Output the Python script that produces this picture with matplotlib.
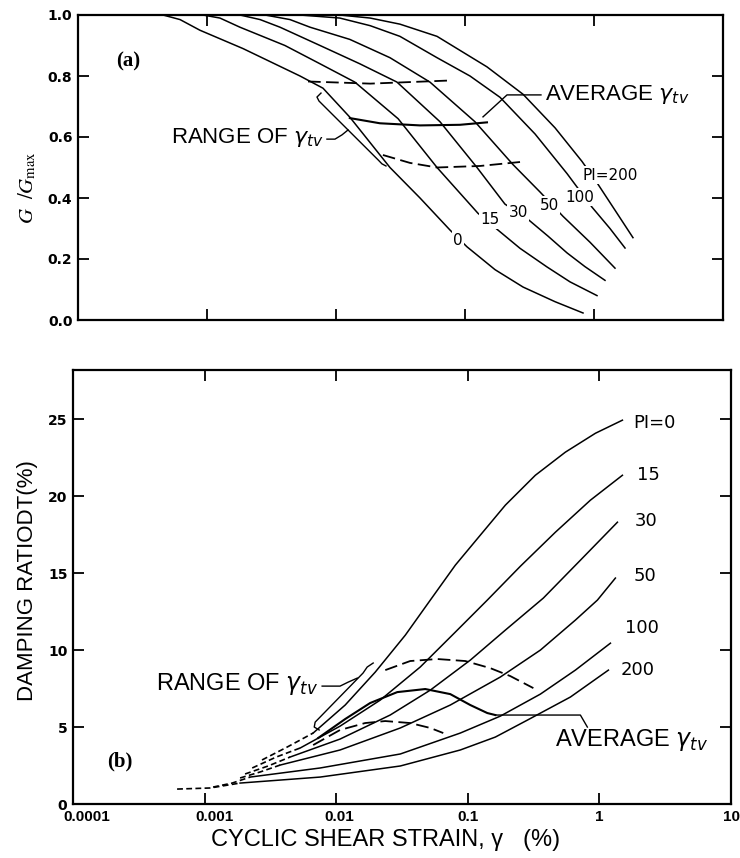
import matplotlib
matplotlib.use("Agg")
import matplotlib.pyplot as plt
from matplotlib.ticker import NullLocator
from matplotlib.transforms import ScaledTranslation

# ---------------- (a) G/Gmax curves, strain in % ----------------
g0_strain = [4.56e-4, 6.18e-4, 8.82e-4, 1.9e-3, 5.26e-3, 7.93e-3, 0.0128, 0.0262,
             0.0448, 0.0765, 0.1036, 0.171, 0.282, 0.499, 0.822]
g0_ratio = [1.0, 0.985, 0.95, 0.89, 0.80, 0.76, 0.665, 0.50, 0.40, 0.295, 0.24,
            0.165, 0.108, 0.06, 0.023]

g15_strain = [9.31e-4, 1.26e-3, 1.80e-3, 4.02e-3, 7.52e-3, 0.0140, 0.0303, 0.0607,
              0.126, 0.180, 0.267, 0.432, 0.652, 1.055]
g15_ratio = [1.0, 0.99, 0.96, 0.90, 0.84, 0.78, 0.66, 0.50, 0.35, 0.295, 0.235,
             0.174, 0.125, 0.08]

g30_strain = [1.80e-3, 2.58e-3, 3.68e-3, 7.52e-3, 0.0153, 0.0297, 0.0640, 0.1239,
              0.204, 0.308, 0.440, 0.618, 0.851, 1.217]
g30_ratio = [1.0, 0.985, 0.96, 0.90, 0.84, 0.78, 0.65, 0.50, 0.38, 0.33, 0.275,
             0.22, 0.175, 0.13]

g50_strain = [2.82e-3, 4.40e-3, 6.29e-3, 0.0128, 0.0262, 0.0535, 0.1195, 0.235,
              0.381, 0.575, 0.931, 1.455]
g50_ratio = [1.0, 0.985, 0.96, 0.92, 0.86, 0.78, 0.65, 0.51, 0.42, 0.34, 0.255, 0.17]

g100_strain = [5.26e-3, 0.0107, 0.0184, 0.0313, 0.0607, 0.1093, 0.187, 0.349,
               0.618, 0.965, 1.33, 1.74]
g100_ratio = [1.0, 0.99, 0.965, 0.93, 0.86, 0.80, 0.73, 0.61, 0.48, 0.37, 0.30, 0.236]

g200_strain = [0.0107, 0.0184, 0.0313, 0.0607, 0.148, 0.282, 0.499, 0.807, 1.055,
               1.455, 2.005]
g200_ratio = [1.0, 0.99, 0.97, 0.93, 0.83, 0.74, 0.63, 0.52, 0.45, 0.36, 0.27]

# threshold strain lines in (a)
ga_upper_strain = [6.07e-3, 0.0184, 0.0738]
ga_upper_ratio = [0.782, 0.775, 0.785]
ga_avg_strain = [0.0128, 0.0219, 0.0448, 0.0914, 0.148]
ga_avg_ratio = [0.662, 0.645, 0.638, 0.640, 0.648]
ga_lower_strain = [0.0231, 0.0375, 0.0607, 0.1306, 0.267]
ga_lower_ratio = [0.541, 0.515, 0.50, 0.505, 0.518]

# annotation geometry in (a)
ga_bracket_strain = [7.65e-3, 7.12e-3, 7.38e-3, 0.0212, 0.0227, 0.0244]
ga_bracket_ratio = [0.744, 0.731, 0.718, 0.525, 0.512, 0.505]
ga_range_lead_strain = [8.51e-3, 9.82e-3, 0.01113, 0.01239]
ga_range_lead_ratio = [0.593, 0.593, 0.607, 0.623]
ga_avg_lead_strain = [0.1379, 0.2117, 0.388]
ga_avg_lead_ratio = [0.666, 0.738, 0.738]

ga_label_text = ["0", "15", "30", "50", "100", "PI=200"]
ga_label_strain = [0.0883, 0.156, 0.258, 0.448, 0.779, 1.33]
ga_label_ratio = [0.262, 0.328, 0.354, 0.377, 0.403, 0.475]

# ---------------- (b) damping curves, strain in %, D in % ----------------
d0_strain = [6.68e-3, 0.0117, 0.0198, 0.0335, 0.0519, 0.0804, 0.1245, 0.193, 0.326,
             0.551, 0.933, 1.496]
d0_damp = [4.61, 6.43, 8.57, 10.97, 13.25, 15.52, 17.47, 19.42, 21.36, 22.86, 24.09, 24.94]
d0_dash_strain = [2.73e-3, 4.24e-3, 6.68e-3]
d0_dash_damp = [2.86, 3.70, 4.61]

d15_strain = [5.33e-3, 0.0107, 0.0216, 0.0435, 0.0804, 0.1407, 0.251, 0.463, 0.854, 1.496]
d15_damp = [3.64, 5.06, 6.75, 8.90, 11.17, 13.25, 15.45, 17.66, 19.74, 21.36]
d15_dash_strain = [2.30e-3, 3.50e-3, 5.33e-3]
d15_dash_damp = [2.34, 3.05, 3.64]

d30_strain = [4.46e-3, 0.0107, 0.0257, 0.0519, 0.1045, 0.193, 0.375, 0.717, 1.371]
d30_damp = [3.05, 4.22, 5.78, 7.40, 9.35, 11.30, 13.38, 15.84, 18.31]
d30_dash_strain = [2.03e-3, 3.04e-3, 4.46e-3]
d30_dash_damp = [1.95, 2.47, 3.05]

d50_strain = [3.75e-3, 0.0107, 0.0307, 0.0736, 0.1767, 0.356, 0.657, 0.966, 1.323]
d50_damp = [2.53, 3.51, 4.94, 6.43, 8.25, 10.0, 11.95, 13.25, 14.68]
d50_dash_strain = [1.86e-3, 2.64e-3, 3.75e-3]
d50_dash_damp = [1.69, 2.08, 2.53]

d100_strain = [2.22e-3, 7.55e-3, 0.0307, 0.0877, 0.1767, 0.356, 0.657, 1.213]
d100_damp = [1.75, 2.34, 3.25, 4.61, 5.71, 7.14, 8.70, 10.45]
d100_dash_strain = [1.16e-3, 1.62e-3, 2.22e-3]
d100_dash_damp = [1.10, 1.36, 1.75]

d200_strain = [1.86e-3, 7.55e-3, 0.0307, 0.0877, 0.162, 0.2835, 0.602, 1.171]
d200_damp = [1.36, 1.75, 2.47, 3.51, 4.35, 5.45, 6.95, 8.70]
d200_dash_strain = [6.18e-4, 1.10e-3, 1.86e-3]
d200_dash_damp = [0.97, 1.04, 1.36]

# threshold strain lines in (b)
db_upper_strain = [0.0236, 0.0365, 0.0586, 0.0957, 0.148, 0.2105, 0.315]
db_upper_damp = [8.70, 9.29, 9.42, 9.29, 8.83, 8.31, 7.53]
db_avg_strain = [7.30e-3, 0.0117, 0.0181, 0.0291, 0.0475, 0.0736, 0.1045, 0.1407, 0.162]
db_avg_damp = [4.29, 5.52, 6.56, 7.27, 7.47, 7.14, 6.43, 5.91, 5.78]
db_lower_strain = [6.68e-3, 0.0107, 0.0166, 0.0236, 0.0365, 0.0519, 0.0651]
db_lower_damp = [3.83, 4.81, 5.26, 5.39, 5.26, 4.94, 4.61]

# annotation geometry in (b)
db_bracket_strain = [7.42e-3, 6.81e-3, 6.92e-3, 0.0160, 0.0172, 0.0191]
db_bracket_damp = [4.81, 5.0, 5.32, 8.51, 8.90, 9.16]
db_range_lead_strain = [7.82e-3, 0.0107, 0.01234, 0.01445]
db_range_lead_damp = [7.66, 7.66, 7.92, 8.18]
db_avg_lead_strain = [0.162, 0.717, 0.810]
db_avg_lead_damp = [5.78, 5.78, 5.0]

db_label_text = ["PI=0", "15", "30", "50", "100", "200"]
db_label_strain = [1.814, 1.945, 1.86, 1.814, 1.577, 1.444]
db_label_damp = [24.74, 21.36, 18.38, 14.81, 11.43, 8.70]

x_ticks = [1e-4, 1e-3, 1e-2, 0.1, 1, 10]
x_tick_labels = ["0.0001", "0.001", "0.01", "0.1", "1", "10"]
ga_y_ticks = [0.0, 0.2, 0.4, 0.6, 0.8, 1.0]
ga_y_tick_labels = ["0.0", "0.2", "0.4", "0.6", "0.8", "1.0"]
db_y_ticks = [0, 5, 10, 15, 20, 25]

plt.rcParams['font.family'] = ['Liberation Sans', 'DejaVu Sans']

fig = plt.figure(figsize=(7.4, 8.58), dpi=100)
ax1 = fig.add_axes([78/740, 1-320/858, 645/740, 305/858])
ax2 = fig.add_axes([73/740, 1-804/858, 658/740, 434/858])

LW = 1.1
dash_long = (7, 3)
dash_short = (3.5, 2)


def style_axes(ax):
    ax.set_xscale("log")
    ax.set_xlim(1e-4, 10)
    ax.set_xticks(x_ticks)
    ax.xaxis.set_minor_locator(NullLocator())
    ax.tick_params(direction="in", top=True, right=True, length=8, width=1.3, pad=4)
    for s in ax.spines.values():
        s.set_linewidth(1.6)


# ---------- panel (a) ----------
style_axes(ax1)
ax1.set_ylim(0, 1.0)
ax1.set_yticks(ga_y_ticks)
ax1.set_yticklabels(ga_y_tick_labels, fontfamily="DejaVu Sans", fontweight="bold", fontsize=10)
ax1.tick_params(labelbottom=False)

for xs, ys in [(g0_strain, g0_ratio), (g15_strain, g15_ratio), (g30_strain, g30_ratio),
               (g50_strain, g50_ratio), (g100_strain, g100_ratio), (g200_strain, g200_ratio)]:
    ax1.plot(xs, ys, color="black", lw=LW)

ax1.plot(ga_upper_strain, ga_upper_ratio, color="black", lw=1.3, dashes=dash_long)
ax1.plot(ga_avg_strain, ga_avg_ratio, color="black", lw=1.5)
ax1.plot(ga_lower_strain, ga_lower_ratio, color="black", lw=1.3, dashes=dash_long)
ax1.plot(ga_bracket_strain, ga_bracket_ratio, color="black", lw=1.0)
ax1.plot(ga_range_lead_strain, ga_range_lead_ratio, color="black", lw=1.0)
ax1.plot(ga_avg_lead_strain, ga_avg_lead_ratio, color="black", lw=1.0)

for t, x, y in zip(ga_label_text, ga_label_strain, ga_label_ratio):
    ax1.text(x, y, t, fontsize=11, fontfamily="DejaVu Sans", ha="center", va="center",
             bbox=dict(fc="white", ec="none", pad=1.0), zorder=5)

ax1.text(8.07e-3, 0.597, r"RANGE OF $\gamma_{tv}$", fontsize=16, ha="right", va="center")
ax1.text(0.417, 0.738, r"AVERAGE $\gamma_{tv}$", fontsize=16, ha="left", va="center")
ax1.text(0.078, 0.846, "(a)", transform=ax1.transAxes, fontsize=15, fontweight="bold",
         fontfamily="Liberation Serif", ha="center", va="center")

# ---------- panel (b) ----------
style_axes(ax2)
ax2.set_ylim(0, 28.2)
ax2.set_yticks(db_y_ticks)
ax2.set_yticklabels([str(v) for v in db_y_ticks], fontfamily="DejaVu Sans",
                    fontweight="bold", fontsize=10)
ax2.set_xticklabels(x_tick_labels, fontweight="bold", fontsize=11)
# the scanned labels sit a little right of their ticks at the low end
for lbl, dx in zip(ax2.get_xticklabels(), [14, 10, 3, 0, 0, 0]):
    lbl.set_transform(lbl.get_transform() + ScaledTranslation(dx / 100, 0, fig.dpi_scale_trans))

for xs, ys in [(d0_strain, d0_damp), (d15_strain, d15_damp), (d30_strain, d30_damp),
               (d50_strain, d50_damp), (d100_strain, d100_damp), (d200_strain, d200_damp)]:
    ax2.plot(xs, ys, color="black", lw=LW)
for xs, ys in [(d0_dash_strain, d0_dash_damp), (d15_dash_strain, d15_dash_damp),
               (d30_dash_strain, d30_dash_damp), (d50_dash_strain, d50_dash_damp),
               (d100_dash_strain, d100_dash_damp), (d200_dash_strain, d200_dash_damp)]:
    ax2.plot(xs, ys, color="black", lw=1.2, dashes=dash_short)

ax2.plot(db_upper_strain, db_upper_damp, color="black", lw=1.3, dashes=dash_long)
ax2.plot(db_avg_strain, db_avg_damp, color="black", lw=1.5)
ax2.plot(db_lower_strain, db_lower_damp, color="black", lw=1.3, dashes=dash_long)
ax2.plot(db_bracket_strain, db_bracket_damp, color="black", lw=1.0)
ax2.plot(db_range_lead_strain, db_range_lead_damp, color="black", lw=1.0)
ax2.plot(db_avg_lead_strain, db_avg_lead_damp, color="black", lw=1.0)

for t, x, y in zip(db_label_text, db_label_strain, db_label_damp):
    ax2.text(x, y, t, fontsize=13, fontfamily="DejaVu Sans", ha="left", va="center")

ax2.text(7.30e-3, 7.79, r"RANGE OF $\gamma_{tv}$", fontsize=17, ha="right", va="center")
ax2.text(0.463, 4.16, r"AVERAGE $\gamma_{tv}$", fontsize=17, ha="left", va="center")
ax2.text(0.071, 0.097, "(b)", transform=ax2.transAxes, fontsize=15, fontweight="bold",
         fontfamily="Liberation Serif", ha="center", va="center")

# axis titles
fig.text(27/740, 1-188/858, r"$G\ \ /G_{\max}$", rotation=90, fontsize=15,
         math_fontfamily="stix", ha="center", va="center")
fig.text(28/740, 1-581/858, "DAMPING RATIODT(%)", rotation=90, fontsize=16,
         ha="center", va="center")
fig.text(386/740, 1-840/858, "CYCLIC SHEAR STRAIN, \u03b3   (%)", fontsize=17,
         ha="center", va="center")

fig.savefig("out.png", dpi=100)
